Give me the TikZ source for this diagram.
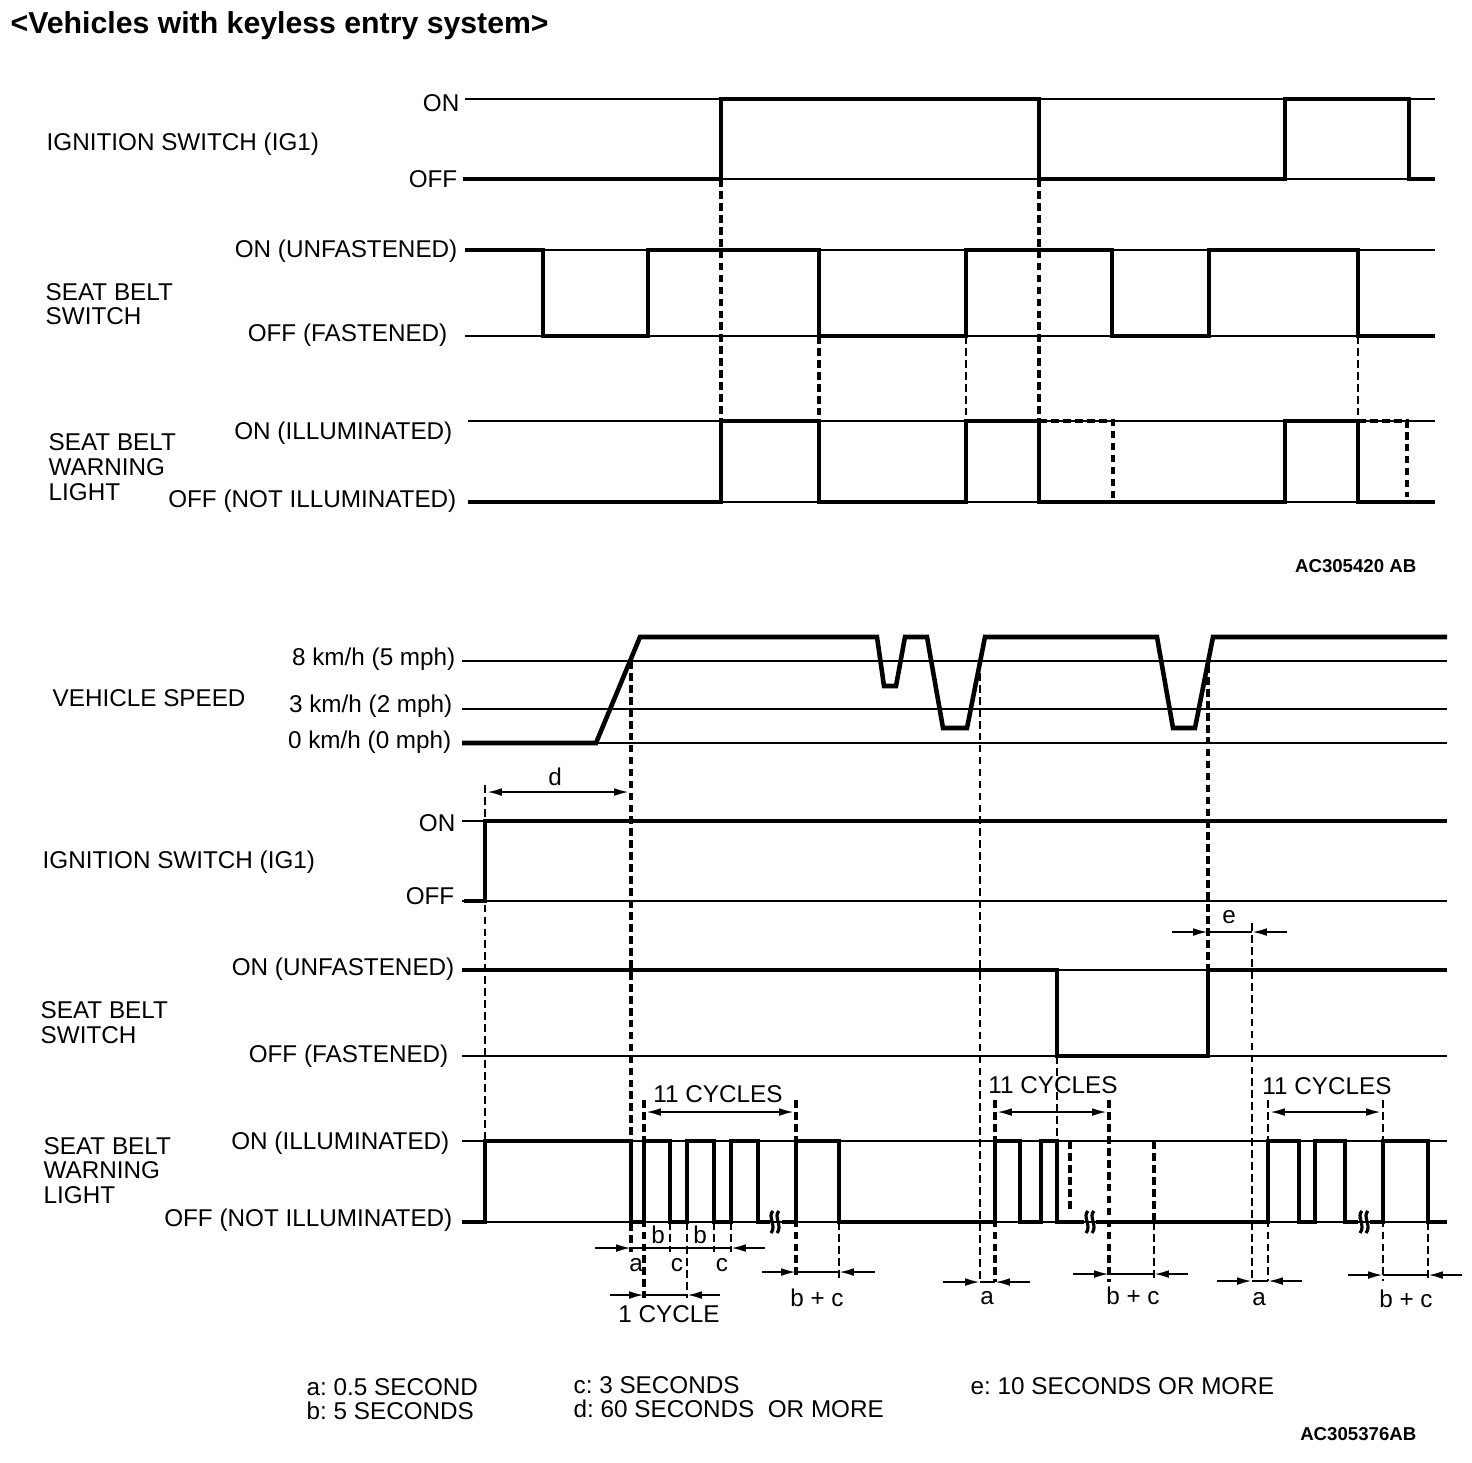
\documentclass[tikz,border=0pt]{standalone}
\usepackage{fontspec}
\setmainfont{Liberation Sans}
\frenchspacing
\usetikzlibrary{arrows.meta}
\newcommand{\lblfont}{\fontsize{6.9pt}{7pt}\selectfont}
\newcommand{\titfont}{\fontsize{8.6pt}{9pt}\selectfont\bfseries}
\newcommand{\codefont}{\fontsize{5.3pt}{6pt}\selectfont\bfseries}
\tikzset{
  refl/.style={line width=0.6pt},
  sig/.style={line width=1.3pt, line join=miter},
  dshk/.style={line width=1.1pt, dash pattern=on 2.2pt off 1.2pt},
  dshn/.style={line width=0.6pt, dash pattern=on 2.2pt off 1.2pt},
  dimline/.style={line width=0.6pt},
  arr/.style={line width=0.6pt, -{Latex[length=4.2pt,width=2.2pt]}},
  darr/.style={line width=0.6pt, {Latex[length=4.2pt,width=2.2pt]}-{Latex[length=4.2pt,width=2.2pt]}},
  lr/.style={font=\lblfont, inner sep=0pt, anchor=base east},
  ll/.style={font=\lblfont, inner sep=0pt, anchor=base west},
  lc/.style={font=\lblfont, inner sep=0pt, anchor=base},
  brk/.style={line width=0.9pt}
}
\begin{document}
\begin{tikzpicture}[x=0.01cm, y=-0.01cm]
\useasboundingbox (0,0) rectangle (1472,1462);

% ---------- title ----------
\node[font=\titfont, inner sep=0pt, anchor=base west] (title) at (10,33) {<Vehicles with keyless entry system>};

% ================= TOP SECTION =================
\draw[refl] (465,99) -- (1435,99);
\draw[refl] (463,179) -- (1435,179);
\draw[refl] (465,250) -- (1435,250);
\draw[refl] (465,336) -- (1435,336);
\draw[refl] (468,421) -- (1435,421);
\draw[refl] (468,502) -- (1435,502);

\draw[sig] (463,179) -- (721,179) -- (721,99) -- (1039,99) -- (1039,179) -- (1285,179) -- (1285,99) -- (1409,99) -- (1409,179) -- (1435,179);
\draw[sig] (465,250) -- (543,250) -- (543,336) -- (648,336) -- (648,250) -- (819,250) -- (819,336) -- (966,336) -- (966,250) -- (1112,250) -- (1112,336) -- (1209,336) -- (1209,250) -- (1358,250) -- (1358,336) -- (1435,336);
\draw[sig] (468,502) -- (721,502) -- (721,421) -- (819,421) -- (819,502) -- (966,502) -- (966,421) -- (1039,421) -- (1039,502) -- (1285,502) -- (1285,421) -- (1358,421) -- (1358,502) -- (1435,502);
\draw[dshk] (1039,421) -- (1113,421) -- (1113,502);
\draw[dshk] (1358,421) -- (1407,421) -- (1407,497);

\draw[dshk] (721,179) -- (721,421);
\draw[dshk] (1039,179) -- (1039,421);
\draw[dshk] (819,336) -- (819,421);
\draw[dshn] (966,336) -- (966,421);
\draw[dshn] (1358,336) -- (1358,421);

\node[lr] (tON) at (460,111) {ON};
\node[lr] (tOFF) at (458,187) {OFF};
\node[ll] (tIG) at (46,150) {IGNITION SWITCH (IG1)};
\node[lr] (tSBon) at (458,257) {ON (UNFASTENED)};
\node[lr] (tSBoff) at (448,341) {OFF (FASTENED)};
\node[ll] (tSB1) at (45,300) {SEAT BELT};
\node[ll] (tSB2) at (45,324) {SWITCH};
\node[lr] (tWLon) at (453,439) {ON (ILLUMINATED)};
\node[lr] (tWLoff) at (457,507) {OFF (NOT ILLUMINATED)};
\node[ll] (tWL1) at (48,450) {SEAT BELT};
\node[ll] (tWL2) at (48,475) {WARNING};
\node[ll] (tWL3) at (48,500) {LIGHT};
\node[font=\codefont, inner sep=0pt, anchor=base east] (code1) at (1417,572) {AC305420 AB};

% ================= BOTTOM SECTION =================
\foreach \yy in {661,709,743,821,901,970,1056,1141,1222}
  \draw[refl] (462,\yy) -- (1447,\yy);

\draw[sig] (462,743) -- (596,743) -- (640,637) -- (877,637) -- (884,686) -- (896,686) -- (905,637) -- (927,637) -- (943,728) -- (967,728) -- (985,637) -- (1157,637) -- (1173,728) -- (1195,728) -- (1213,637) -- (1447,637);

\draw[sig] (464,901) -- (485,901) -- (485,821) -- (1447,821);
\draw[sig] (462,970) -- (1057,970) -- (1057,1056) -- (1208,1056) -- (1208,970) -- (1447,970);
\draw[sig] (462,1222) -- (485,1222) -- (485,1141) -- (631,1141) -- (631,1222) -- (644,1222) -- (644,1141) -- (670,1141) -- (670,1222) -- (687,1222) -- (687,1141) -- (714,1141) -- (714,1222) -- (731,1222) -- (731,1141) -- (758,1141) -- (758,1222) -- (770,1222);
\draw[sig] (782,1222) -- (796,1222) -- (796,1141) -- (839,1141) -- (839,1222) -- (995,1222) -- (995,1141) -- (1020,1141) -- (1020,1222) -- (1041,1222) -- (1041,1141) -- (1057,1141) -- (1057,1222) -- (1084,1222);
\draw[sig] (1096,1222) -- (1268,1222) -- (1268,1141) -- (1299,1141) -- (1299,1222) -- (1315,1222) -- (1315,1141) -- (1345,1141) -- (1345,1222) -- (1358,1222);
\draw[sig] (1370,1222) -- (1383,1222) -- (1383,1141) -- (1428,1141) -- (1428,1222) -- (1447,1222);
\draw[dshk] (1070,1141) -- (1070,1212);
\draw[dshk] (1154,1141) -- (1154,1222);

\foreach \bx in {773,1088,1362} {
  \draw[brk] (\bx,1211) .. controls (\bx-6,1216) and (\bx+4,1226) .. (\bx-2,1233);
  \draw[brk] (\bx+6,1211) .. controls (\bx,1216) and (\bx+10,1226) .. (\bx+4,1233);
}

\draw[dshn] (485,785) -- (485,1141);
\draw[dshk] (631,661) -- (631,1252);
\draw[dshn] (980,661) -- (980,1282);
\draw[dshk] (1208,665) -- (1208,970);
\draw[dshn] (1252,923) -- (1252,1281);
\draw[dshk] (644,1100) -- (644,1298);
\draw[dshn] (670,1222) -- (670,1252);
\draw[dshn] (687,1222) -- (687,1298);
\draw[dshn] (714,1222) -- (714,1252);
\draw[dshn] (731,1222) -- (731,1252);
\draw[dshk] (796,1100) -- (796,1278);
\draw[dshn] (839,1222) -- (839,1278);
\draw[dshk] (995,1100) -- (995,1282);
\draw[dshn] (1057,1056) -- (1057,1141);
\draw[dshk] (1109,1100) -- (1109,1282);
\draw[dshn] (1154,1222) -- (1154,1278);
\draw[dshn] (1268,1100) -- (1268,1281);
\draw[dshn] (1383,1100) -- (1383,1281);
\draw[dshn] (1428,1222) -- (1428,1281);

\coordinate (d1) at (487,792); \coordinate (d2) at (629,792);
\draw[darr] (d1) -- (d2);
\node[lc] (td) at (555,785) {d};

\draw[darr] (646,1112) -- (794,1112);
\node[lc] (c11a) at (718,1102) {11 CYCLES};
\draw[darr] (997,1112) -- (1107,1112);
\node[lc] (c11b) at (1053,1093) {11 CYCLES};
\draw[darr] (1270,1112) -- (1381,1112);
\node[lc] (c11c) at (1327,1094) {11 CYCLES};

\draw[dimline] (631,1248) -- (731,1248);
\draw[arr] (595,1248) -- (631,1248);
\draw[arr] (765,1248) -- (731,1248);
\node[lc] (tb1) at (658,1243) {b};
\node[lc] (tb2) at (700,1243) {b};
\node[lc] (ta1) at (636,1271) {a};
\node[lc] (tc1) at (677,1271) {c};
\node[lc] (tc2) at (722,1271) {c};

\draw[dimline] (644,1295) -- (687,1295);
\draw[arr] (610,1295) -- (644,1295);
\draw[arr] (720,1295) -- (687,1295);
\node[lc] (t1c) at (669,1322) {1 CYCLE};

\draw[dimline] (796,1272) -- (839,1272);
\draw[arr] (762,1272) -- (796,1272);
\draw[arr] (875,1272) -- (839,1272);
\node[lc] (tbc1) at (817,1306) {b + c};

\draw[dimline] (980,1282) -- (995,1282);
\draw[arr] (943,1282) -- (980,1282);
\draw[arr] (1030,1282) -- (995,1282);
\node[lc] (ta2) at (987,1304) {a};

\draw[dimline] (1109,1274) -- (1154,1274);
\draw[arr] (1073,1274) -- (1109,1274);
\draw[arr] (1188,1274) -- (1154,1274);
\node[lc] (tbc2) at (1133,1304) {b + c};

\draw[dimline] (1208,932) -- (1252,932);
\draw[arr] (1172,932) -- (1208,932);
\draw[arr] (1287,932) -- (1252,932);
\node[lc] (te) at (1229,923) {e};

\draw[dimline] (1252,1281) -- (1268,1281);
\draw[arr] (1217,1281) -- (1252,1281);
\draw[arr] (1302,1281) -- (1268,1281);
\node[lc] (ta3) at (1259,1305) {a};

\draw[dimline] (1383,1275) -- (1428,1275);
\draw[arr] (1348,1275) -- (1383,1275);
\draw[arr] (1462,1275) -- (1428,1275);
\node[lc] (tbc3) at (1406,1307) {b + c};

\node[lr] (s8) at (456,665) {8 km/h (5 mph)};
\node[lr] (s3) at (453,712) {3 km/h (2 mph)};
\node[lr] (s0) at (452,748) {0 km/h (0 mph)};
\node[ll] (tVS) at (52,706) {VEHICLE SPEED};
\node[lr] (bON) at (456,831) {ON};
\node[ll] (bIG) at (42,868) {IGNITION SWITCH (IG1)};
\node[lr] (bOFF) at (455,904) {OFF};
\node[lr] (bSBon) at (455,975) {ON (UNFASTENED)};
\node[lr] (bSBoff) at (449,1062) {OFF (FASTENED)};
\node[ll] (bSB1) at (40,1018) {SEAT BELT};
\node[ll] (bSB2) at (40,1043) {SWITCH};
\node[lr] (bWLon) at (450,1149) {ON (ILLUMINATED)};
\node[lr] (bWLoff) at (453,1226) {OFF (NOT ILLUMINATED)};
\node[ll] (bWL1) at (43,1154) {SEAT BELT};
\node[ll] (bWL2) at (43,1178) {WARNING};
\node[ll] (bWL3) at (43,1203) {LIGHT};

\node[ll] (lga) at (306,1395) {a: 0.5 SECOND};
\node[ll] (lgb) at (306,1419) {b: 5 SECONDS};
\node[ll] (lgc) at (573,1393) {c: 3 SECONDS};
\node[ll] (lgd) at (573,1417) {d: 60 SECONDS\ \ OR MORE};
\node[ll] (lge) at (970,1394) {e: 10 SECONDS OR MORE};
\node[font=\codefont, inner sep=0pt, anchor=base east] (code2) at (1417,1440) {AC305376AB};
\end{tikzpicture}
\end{document}
